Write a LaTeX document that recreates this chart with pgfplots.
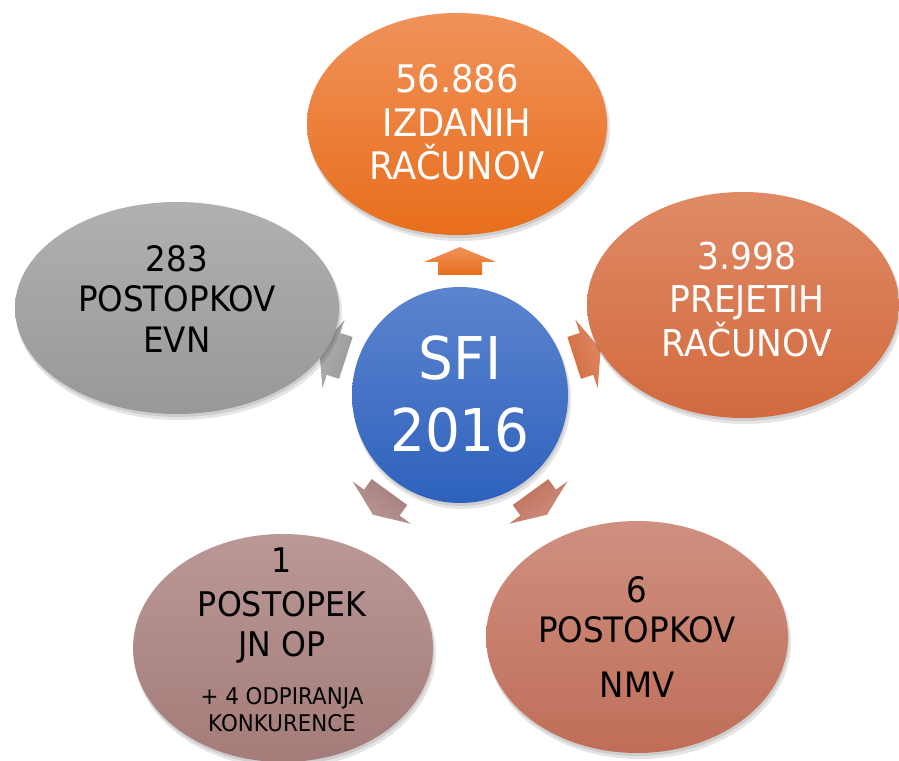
\documentclass[border=0pt]{standalone}
\usepackage{pgfplots}
\pgfplotsset{compat=1.18}
\usepackage{fontspec}
\setmainfont{DejaVu Sans}[FakeStretch=0.93]
\definecolor{orT}{HTML}{F0925A}
\definecolor{orB}{HTML}{E86E1C}
\definecolor{rtT}{HTML}{DF8A66}
\definecolor{rtB}{HTML}{D26A3E}
\definecolor{brT}{HTML}{CF9080}
\definecolor{brB}{HTML}{BF6E58}
\definecolor{blT}{HTML}{BA9896}
\definecolor{blB}{HTML}{A47C79}
\definecolor{grT}{HTML}{B0B0B0}
\definecolor{grB}{HTML}{989898}
\definecolor{buT}{HTML}{5C84CE}
\definecolor{buB}{HTML}{2E62BD}
% arrow: #1 angle, #2 top colour, #3 bottom colour
\newcommand{\radarrow}[3]{%
  \begin{scope}[shift={(axis cs:460,365)}, rotate=#1]
    \shade[top color=#2, bottom color=#3, shading angle=#1-90]
      (120pt,-22pt) -- (133pt,-22pt) -- (133pt,-36pt) -- (148pt,0pt) --
      (133pt,36pt) -- (133pt,22pt) -- (120pt,22pt) -- cycle;
  \end{scope}}
% ellipse: x, y, rx, ry, top, bottom
\newcommand{\blob}[6]{%
  \fill[black, opacity=0.10] (axis cs:#1+2,#2-5) ellipse [x radius=#3+1, y radius=#4+1];
  \fill[black, opacity=0.10] (axis cs:#1+1,#2-3) ellipse [x radius=#3, y radius=#4];
  \shade[top color=#5, bottom color=#6] (axis cs:#1,#2) ellipse [x radius=#3, y radius=#4];}
\begin{document}
\begin{tikzpicture}
\begin{axis}[name=ax, width=899pt, height=760pt, scale only axis,
  xmin=0, xmax=899, ymin=0, ymax=760, hide axis, clip=true]
  \addplot[draw=none] coordinates {(0,0) (899,760)};
  % arrows
  \radarrow{90}{orT}{orB}
  \radarrow{18}{rtT}{rtB}
  \radarrow{-54}{brT}{brB}
  \radarrow{-126}{blT}{blB}
  \radarrow{162}{grT}{grB}
  % ellipses
  \blob{457}{636}{150}{111}{orT}{orB}
  \blob{743}{455}{156}{113}{rtT}{rtB}
  \blob{637}{123}{151}{116}{brT}{brB}
  \blob{283}{112}{150}{114}{blT}{blB}
  \blob{177}{452}{162}{106}{grT}{grB}
  \blob{460}{365}{108}{108}{buT}{buB}
  % texts
  \begin{scope}[every node/.style={inner sep=0pt, anchor=base}]
  \node[white, font=\fontsize{38}{38}\selectfont] at (axis cs:457,667) {56.886};
  \node[white, font=\fontsize{38}{38}\selectfont] at (axis cs:457,623) {IZDANIH};
  \node[white, font=\fontsize{38}{38}\selectfont] at (axis cs:457,580) {RAČUNOV};
  \node[white, font=\fontsize{37}{37}\selectfont] at (axis cs:747,490) {3.998};
  \node[white, font=\fontsize{37}{37}\selectfont] at (axis cs:747,447) {PREJETIH};
  \node[white, font=\fontsize{37}{37}\selectfont] at (axis cs:747,403) {RAČUNOV};
  \node[black, font=\fontsize{35}{35}\selectfont] at (axis cs:177,488) {283};
  \node[black, font=\fontsize{35}{35}\selectfont] at (axis cs:177,448) {POSTOPKOV};
  \node[black, font=\fontsize{35}{35}\selectfont] at (axis cs:177,407) {EVN};
  \node[black, font=\fontsize{35}{35}\selectfont] at (axis cs:637,157) {6};
  \node[black, font=\fontsize{35}{35}\selectfont] at (axis cs:637,117) {POSTOPKOV};
  \node[black, font=\fontsize{35}{35}\selectfont] at (axis cs:637,62) {NMV};
  \node[black, font=\fontsize{34}{34}\selectfont] at (axis cs:282,187) {1};
  \node[black, font=\fontsize{34}{34}\selectfont] at (axis cs:282,143) {POSTOPEK};
  \node[black, font=\fontsize{34}{34}\selectfont] at (axis cs:282,103) {JN OP};
  \node[black, font=\fontsize{23}{23}\selectfont] at (axis cs:282,56) {+ 4 ODPIRANJA};
  \node[black, font=\fontsize{23}{23}\selectfont] at (axis cs:282,28) {KONKURENCE};
  \node[white, font=\fontsize{59}{59}\selectfont] at (axis cs:460,380) {SFI};
  \node[white, font=\fontsize{59}{59}\selectfont] at (axis cs:460,308) {2016};
  \end{scope}
\end{axis}
\pgfresetboundingbox
\path (ax.south west) rectangle (ax.north east);
\end{tikzpicture}
\end{document}
